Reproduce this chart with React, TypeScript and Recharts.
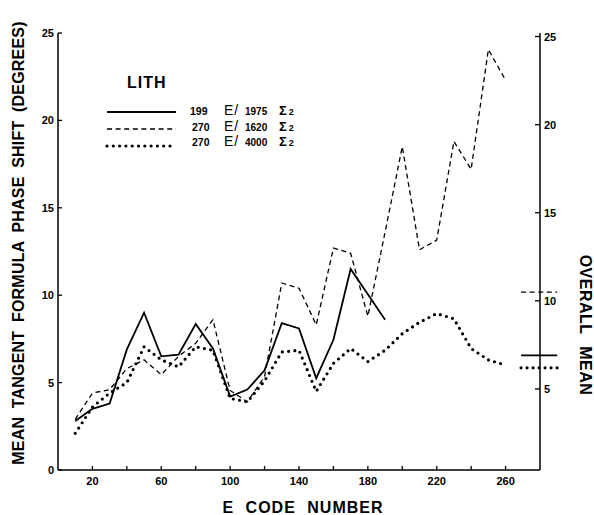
import React from 'react';
import { LineChart, Line, XAxis, YAxis, ReferenceLine } from 'recharts';

// E code numbers (x) at which each series is sampled
const xCodes = [10, 20, 30, 40, 50, 60, 70, 80, 90, 100, 110, 120, 130, 140, 150, 160, 170, 180, 190, 200, 210, 220, 230, 240, 250, 260];

// 199 E / 1975 Σ2 (solid) - ends at 190
const solid199 = [2.8, 3.5, 3.8, 6.9, 9.0, 6.5, 6.6, 8.35, 6.95, 4.2, 4.6, 5.7, 8.4, 8.1, 5.25, 7.45, 11.5, 10.05, 8.6];
// 270 E / 1620 Σ2 (dashed)
const dashed270 = [2.9, 4.4, 4.6, 5.8, 6.3, 5.45, 6.5, 7.25, 8.6, 4.55, 3.9, 5.35, 10.7, 10.4, 8.3, 12.7, 12.4, 8.8, 13.6, 18.5, 12.6, 13.15, 18.8, 17.2, 24.05, 22.3];
// 270 E / 4000 Σ2 (dotted)
const dotted270 = [2.1, 3.6, 4.4, 5.0, 7.05, 6.3, 5.9, 7.05, 6.85, 4.1, 3.9, 5.1, 6.75, 6.85, 4.5, 6.1, 6.95, 6.2, 6.85, 7.8, 8.45, 8.95, 8.65, 6.95, 6.3, 6.0];

// overall means shown at the right edge (read against the right-hand scale)
const meanSolid = 6.9;
const meanDashed = 10.5;
const meanDotted = 6.2;

const xTicks = [20, 40, 60, 80, 100, 120, 140, 160, 180, 200, 220, 240, 260];
const xTickLabels = [20, 60, 100, 140, 180, 220, 260];
const leftTicks = [0, 5, 10, 15, 20, 25];
const rightTicks = [5, 10, 15, 20, 25];

const legendRows = [
  { n: '199', s: '1975', style: 'solid' },
  { n: '270', s: '1620', style: 'dashed' },
  { n: '270', s: '4000', style: 'dotted' },
];

const data = xCodes.map((x, i) => ({
  x,
  solid: i < solid199.length ? solid199[i] : null,
  dashed: dashed270[i],
  dotted: dotted270[i],
}));

const FONT = '"Liberation Sans", Arial, sans-serif';

const XTick = (props: any) => {
  const { x, y, payload } = props;
  const v = payload.value;
  return (
    <g>
      <line x1={x} y1={y} x2={x} y2={y - 4} stroke="#000" strokeWidth={1.3} />
      {xTickLabels.includes(v) && (
        <text x={x} y={y + 15} textAnchor="middle" fontFamily={FONT} fontWeight="bold" fontSize={11} fill="#000">
          {v}
        </text>
      )}
    </g>
  );
};

const LeftTick = (props: any) => {
  const { x, y, payload } = props;
  return (
    <g>
      <line x1={x} y1={y} x2={x + 4} y2={y} stroke="#000" strokeWidth={1.3} />
      <text x={x - 4} y={y + 4} textAnchor="end" fontFamily={FONT} fontWeight="bold" fontSize={11} fill="#000">
        {payload.value}
      </text>
    </g>
  );
};

const RightTick = (props: any) => {
  const { x, y, payload } = props;
  return (
    <g>
      <line x1={x} y1={y} x2={x - 5} y2={y} stroke="#000" strokeWidth={1.3} />
      <text x={x + 4} y={y + 4} textAnchor="start" fontFamily={FONT} fontWeight="bold" fontSize={11} fill="#000">
        {payload.value}
      </text>
    </g>
  );
};

const LegendBox = () => (
  <svg width={230} height={90} style={{ position: 'absolute', left: 100, top: 70, overflow: 'visible' }}>
    <text x={27} y={17.5} fontFamily={FONT} fontWeight="bold" fontSize={16} letterSpacing={1}>LITH</text>
    {legendRows.map((r, i) => {
      const ly = 42 + i * 17;
      const ty = 45 + i * 15.5;
      return (
        <g key={i}>
          <line
            x1={7}
            x2={76}
            y1={ly}
            y2={ly}
            stroke="#000"
            strokeWidth={r.style === 'dotted' ? 3.2 : r.style === 'dashed' ? 1.3 : 2}
            strokeDasharray={r.style === 'dotted' ? '0 6.3' : r.style === 'dashed' ? '5 3.6' : undefined}
            strokeLinecap={r.style === 'dotted' ? 'round' : 'butt'}
          />
          <text x={90 + (i > 0 ? 2 : 0)} y={ty} fontFamily={FONT} fontWeight="bold" fontSize={10.5}>{r.n}</text>
          <text x={124} y={ty} fontFamily={FONT} fontSize={14}>
            <tspan>E</tspan>
            <tspan dx={1}>/</tspan>
          </text>
          <text x={145} y={ty} fontFamily={FONT} fontWeight="bold" fontSize={10}>{r.s}</text>
          <text x={179} y={ty} fontFamily={FONT} fontWeight="bold" fontSize={13}>
            <tspan>Σ</tspan>
            <tspan dx={2} fontSize={9}>2</tspan>
          </text>
        </g>
      );
    })}
  </svg>
);

export default function App() {
  return (
    <div style={{ position: 'absolute', left: 0, top: 0, width: 594, height: 515, background: '#fff' }}>
      <LineChart width={594} height={515} data={data} margin={{ top: 33, right: 0, bottom: 0, left: 0 }}>
        <XAxis
          dataKey="x"
          type="number"
          domain={[0, 280]}
          ticks={xTicks}
          tick={<XTick />}
          tickLine={false}
          tickSize={0}
          tickMargin={0}
          height={45}
          axisLine={{ stroke: '#000', strokeWidth: 1.5 }}
          label={{
            content: () => (
              <text x={303} y={513} textAnchor="middle" fontFamily={FONT} fontWeight="bold" fontSize={16} letterSpacing={1} wordSpacing={6}>
                E CODE NUMBER
              </text>
            ),
          }}
        />
        <YAxis
          yAxisId="left"
          domain={[0, 25]}
          ticks={leftTicks}
          tick={<LeftTick />}
          tickLine={false}
          tickSize={0}
          tickMargin={0}
          width={58}
          axisLine={{ stroke: '#000', strokeWidth: 1.5 }}
          label={{
            content: () => (
              <text transform="translate(24,243) rotate(-90)" textAnchor="middle" fontFamily={FONT} fontWeight="bold" fontSize={16} letterSpacing={0.2} wordSpacing={4}>
                MEAN TANGENT FORMULA PHASE SHIFT (DEGREES)
              </text>
            ),
          }}
        />
        <YAxis
          yAxisId="right"
          orientation="right"
          domain={[0.4, 25.2]}
          ticks={rightTicks}
          tick={<RightTick />}
          tickLine={false}
          tickSize={0}
          tickMargin={0}
          width={54}
          allowDataOverflow
          axisLine={{ stroke: '#000', strokeWidth: 1.5 }}
          label={{
            content: () => (
              <text transform="translate(580,325) rotate(90)" textAnchor="middle" fontFamily={FONT} fontWeight="bold" fontSize={16} letterSpacing={0.5} wordSpacing={7}>
                OVERALL MEAN
              </text>
            ),
          }}
        />
        <Line yAxisId="right" dataKey="dashed" stroke="none" strokeWidth={0} dot={false} activeDot={false} isAnimationActive={false} legendType="none" />
        <Line yAxisId="left" dataKey="dashed" stroke="#000" strokeWidth={1.3} strokeDasharray="5 3.6" dot={false} activeDot={false} isAnimationActive={false} />
        <Line yAxisId="left" dataKey="dotted" stroke="#000" strokeWidth={3.2} strokeDasharray="0 6.3" strokeLinecap="round" dot={false} activeDot={false} isAnimationActive={false} />
        <Line yAxisId="left" dataKey="solid" stroke="#000" strokeWidth={1.8} dot={false} activeDot={false} isAnimationActive={false} connectNulls={false} />
        <ReferenceLine yAxisId="right" segment={[{ x: 269, y: meanDashed }, { x: 290, y: meanDashed }]} stroke="#000" strokeWidth={1.3} strokeDasharray="5 3.6" ifOverflow="visible" />
        <ReferenceLine yAxisId="right" segment={[{ x: 269, y: meanSolid }, { x: 290, y: meanSolid }]} stroke="#000" strokeWidth={1.8} ifOverflow="visible" />
        <ReferenceLine yAxisId="right" segment={[{ x: 269, y: meanDotted }, { x: 290, y: meanDotted }]} stroke="#000" strokeWidth={3.2} strokeDasharray="0 6" strokeLinecap="round" ifOverflow="visible" />
      </LineChart>
      <LegendBox />
    </div>
  );
}
